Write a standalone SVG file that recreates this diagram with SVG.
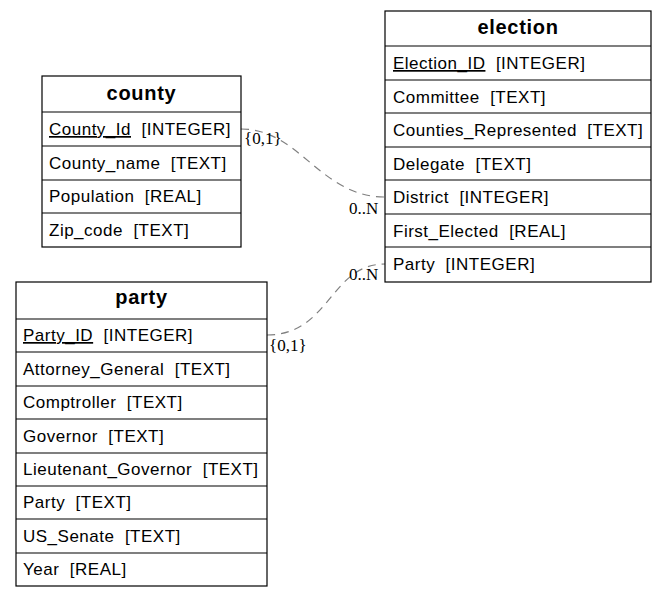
<svg xmlns="http://www.w3.org/2000/svg" width="667" height="597" viewBox="0 0 667 597">
<style>
.box{fill:#fff;stroke:#000;stroke-width:1.2}
.ln{stroke:#000;stroke-width:1.2}
.h{font-family:"Liberation Sans",Arial,sans-serif;font-weight:bold;font-size:20px;letter-spacing:0.7px;text-anchor:middle}
.t{font-family:"Liberation Sans",Arial,sans-serif;font-size:17px;letter-spacing:0.5px;white-space:pre}
.pk{text-decoration:underline}
.e{fill:none;stroke:#808080;stroke-width:1.2;stroke-dasharray:8,6}
.lb{font-family:"Liberation Serif","Times New Roman",serif;font-size:17px}
</style>
<rect width="667" height="597" fill="#fff"/>
<g id="edges">
<path class="e" d="M241,129 C300,129 320,197 385,197"/>
<text class="lb" x="244" y="144">{0,1}</text>
<text class="lb" x="349" y="214">0..N</text>
<path class="e" d="M267,335 C330,335 330,264 385,264"/>
<text class="lb" x="269" y="351">{0,1}</text>
<text class="lb" x="349" y="280">0..N</text>
</g>
<g id="election">
<rect class="box" x="385" y="11" width="266" height="271"/>
<line class="ln" x1="385" y1="46" x2="651" y2="46"/>
<line class="ln" x1="385" y1="80" x2="651" y2="80"/>
<line class="ln" x1="385" y1="113" x2="651" y2="113"/>
<line class="ln" x1="385" y1="147" x2="651" y2="147"/>
<line class="ln" x1="385" y1="180" x2="651" y2="180"/>
<line class="ln" x1="385" y1="214" x2="651" y2="214"/>
<line class="ln" x1="385" y1="247" x2="651" y2="247"/>
<text class="h" x="518" y="34">election</text>
<text class="t" x="393" y="69"><tspan class="pk">Election_ID</tspan>  [INTEGER]</text>
<text class="t" x="393" y="103">Committee  [TEXT]</text>
<text class="t" x="393" y="136">Counties_Represented  [TEXT]</text>
<text class="t" x="393" y="170">Delegate  [TEXT]</text>
<text class="t" x="393" y="203">District  [INTEGER]</text>
<text class="t" x="393" y="237">First_Elected  [REAL]</text>
<text class="t" x="393" y="270">Party  [INTEGER]</text>
</g>
<g id="county">
<rect class="box" x="42" y="76" width="199" height="171"/>
<line class="ln" x1="42" y1="112" x2="241" y2="112"/>
<line class="ln" x1="42" y1="146" x2="241" y2="146"/>
<line class="ln" x1="42" y1="180" x2="241" y2="180"/>
<line class="ln" x1="42" y1="213" x2="241" y2="213"/>
<text class="h" x="141.5" y="100">county</text>
<text class="t" x="49" y="135"><tspan class="pk">County_Id</tspan>  [INTEGER]</text>
<text class="t" x="49" y="169">County_name  [TEXT]</text>
<text class="t" x="49" y="202">Population  [REAL]</text>
<text class="t" x="49" y="236">Zip_code  [TEXT]</text>
</g>
<g id="party">
<rect class="box" x="16" y="282" width="251" height="304"/>
<line class="ln" x1="16" y1="319" x2="267" y2="319"/>
<line class="ln" x1="16" y1="352" x2="267" y2="352"/>
<line class="ln" x1="16" y1="386" x2="267" y2="386"/>
<line class="ln" x1="16" y1="419" x2="267" y2="419"/>
<line class="ln" x1="16" y1="453" x2="267" y2="453"/>
<line class="ln" x1="16" y1="486" x2="267" y2="486"/>
<line class="ln" x1="16" y1="519" x2="267" y2="519"/>
<line class="ln" x1="16" y1="553" x2="267" y2="553"/>
<text class="h" x="141.5" y="304">party</text>
<text class="t" x="23" y="341"><tspan class="pk">Party_ID</tspan>  [INTEGER]</text>
<text class="t" x="23" y="375">Attorney_General  [TEXT]</text>
<text class="t" x="23" y="408">Comptroller  [TEXT]</text>
<text class="t" x="23" y="442">Governor  [TEXT]</text>
<text class="t" x="23" y="475">Lieutenant_Governor  [TEXT]</text>
<text class="t" x="23" y="508">Party  [TEXT]</text>
<text class="t" x="23" y="542">US_Senate  [TEXT]</text>
<text class="t" x="23" y="575">Year  [REAL]</text>
</g>
</svg>
